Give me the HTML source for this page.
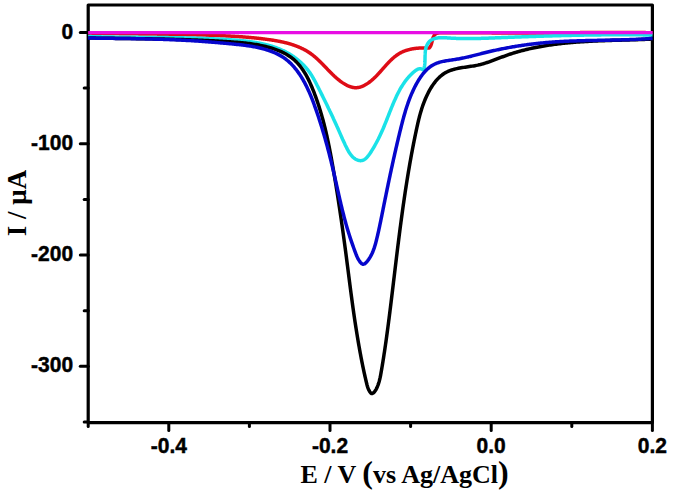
<!DOCTYPE html>
<html><head><meta charset="utf-8"><style>
html,body{margin:0;padding:0;background:#fff;width:675px;height:495px;overflow:hidden;}
svg{display:block;}
</style></head><body><svg width="675" height="495" viewBox="0 0 675 495"><path d="M88.2 5.0 L652.4 5.0 L652.4 422.6 L88.2 422.6 Z" fill="none" stroke="#000" stroke-width="3.2" stroke-linejoin="round"/><g stroke="#000" stroke-width="3" stroke-linecap="round" fill="none"><path d="M80.3 32.5 L88.2 32.5"/><path d="M80.3 143.8 L88.2 143.8"/><path d="M80.3 255.0 L88.2 255.0"/><path d="M80.3 366.3 L88.2 366.3"/><path d="M84.2 88.1 L88.2 88.1"/><path d="M84.2 199.4 L88.2 199.4"/><path d="M84.2 310.7 L88.2 310.7"/><path d="M84.2 421.9 L88.2 421.9"/><path d="M168.8 422.6 L168.8 430.5"/><path d="M330.0 422.6 L330.0 430.5"/><path d="M491.2 422.6 L491.2 430.5"/><path d="M652.4 422.6 L652.4 430.5"/><path d="M88.2 422.6 L88.2 426.5"/><path d="M249.4 422.6 L249.4 426.5"/><path d="M410.6 422.6 L410.6 426.5"/><path d="M571.8 422.6 L571.8 426.5"/></g><path d="M88.24 33.08 L88.70 33.09 89.16 33.10 89.63 33.11 90.09 33.12 90.55 33.13 91.01 33.14 91.47 33.15 91.93 33.16 92.39 33.17 92.85 33.18 93.31 33.19 93.77 33.20 94.24 33.21 94.70 33.21 95.16 33.22 95.62 33.23 96.08 33.24 96.54 33.25 97.00 33.26 97.47 33.27 97.93 33.28 98.39 33.29 98.85 33.30 99.31 33.31 99.78 33.31 100.24 33.32 100.70 33.33 101.16 33.34 101.62 33.35 102.09 33.36 102.55 33.36 103.01 33.37 103.47 33.38 103.94 33.39 104.40 33.40 104.86 33.40 105.32 33.41 105.79 33.42 106.25 33.43 106.71 33.44 107.17 33.44 107.64 33.45 108.10 33.46 108.56 33.47 109.03 33.47 109.49 33.48 109.95 33.49 110.41 33.50 110.88 33.50 111.34 33.51 111.80 33.52 112.27 33.53 112.73 33.53 113.19 33.54 113.66 33.55 114.12 33.55 114.58 33.56 115.05 33.57 115.51 33.57 115.97 33.58 116.44 33.59 116.90 33.59 117.36 33.60 117.83 33.61 118.29 33.61 118.76 33.62 119.22 33.63 119.68 33.63 120.15 33.64 120.61 33.65 121.07 33.65 121.54 33.66 122.00 33.67 122.47 33.67 122.93 33.68 123.39 33.69 123.86 33.69 124.32 33.70 124.79 33.70 125.25 33.71 125.71 33.72 126.18 33.72 126.64 33.73 127.11 33.74 127.57 33.74 128.04 33.75 128.50 33.75 128.96 33.76 129.43 33.77 129.89 33.77 130.36 33.78 130.82 33.78 131.29 33.79 131.75 33.80 132.21 33.80 132.68 33.81 133.14 33.81 133.61 33.82 134.07 33.83 134.54 33.83 135.00 33.84 135.47 33.84 135.93 33.85 136.40 33.86 136.86 33.86 137.32 33.87 137.79 33.87 138.25 33.88 138.72 33.88 139.18 33.89 139.65 33.90 140.11 33.90 140.58 33.91 141.04 33.91 141.51 33.92 141.97 33.93 142.44 33.93 142.90 33.94 143.37 33.94 143.83 33.95 144.30 33.96 144.76 33.96 145.23 33.97 145.69 33.97 146.16 33.98 146.62 33.99 147.09 33.99 147.55 34.00 148.02 34.00 148.48 34.01 148.95 34.02 149.41 34.02 149.88 34.03 150.34 34.03 150.80 34.04 151.27 34.05 151.73 34.05 152.20 34.06 152.66 34.07 153.13 34.07 153.59 34.08 154.06 34.08 154.52 34.09 154.99 34.10 155.45 34.10 155.92 34.11 156.38 34.12 156.85 34.12 157.31 34.13 157.78 34.14 158.24 34.14 158.71 34.15 159.17 34.16 159.64 34.16 160.10 34.17 160.57 34.18 161.03 34.18 161.50 34.19 161.96 34.20 162.43 34.20 162.89 34.21 163.36 34.22 163.82 34.22 164.29 34.23 164.75 34.24 165.22 34.24 165.68 34.25 166.15 34.26 166.61 34.27 167.08 34.27 167.54 34.28 168.01 34.29 168.47 34.30 168.93 34.30 169.40 34.31 169.86 34.32 170.33 34.33 170.79 34.33 171.26 34.34 171.72 34.35 172.19 34.36 172.65 34.37 173.12 34.37 173.58 34.38 174.05 34.39 174.51 34.40 174.97 34.41 175.44 34.41 175.90 34.42 176.37 34.43 176.83 34.44 177.30 34.45 177.76 34.46 178.23 34.47 178.69 34.47 179.15 34.48 179.62 34.49 180.08 34.50 180.55 34.51 181.01 34.52 181.48 34.53 181.94 34.54 182.40 34.55 182.87 34.56 183.33 34.57 183.80 34.58 184.26 34.59 184.72 34.59 185.19 34.60 185.65 34.61 186.12 34.62 186.58 34.63 187.04 34.64 187.51 34.65 187.97 34.66 188.43 34.68 188.90 34.69 189.36 34.70 189.83 34.71 190.29 34.72 190.75 34.73 191.22 34.74 191.68 34.75 192.14 34.76 192.61 34.77 193.07 34.78 193.53 34.79 194.00 34.81 194.46 34.82 194.92 34.83 195.39 34.84 195.85 34.85 196.31 34.86 196.78 34.88 197.24 34.89 197.70 34.90 198.16 34.91 198.63 34.93 199.09 34.94 199.55 34.95 200.02 34.96 200.48 34.98 200.94 34.99 201.40 35.00 201.87 35.01 202.33 35.03 202.79 35.04 203.25 35.05 203.72 35.07 204.18 35.08 204.64 35.10 205.10 35.11 205.57 35.12 206.03 35.14 206.49 35.15 206.95 35.17 207.41 35.18 207.88 35.19 208.34 35.21 208.80 35.22 209.26 35.24 209.72 35.25 210.19 35.27 210.65 35.28 211.11 35.30 211.57 35.31 212.03 35.33 212.49 35.35 212.95 35.36 213.42 35.38 213.88 35.39 214.34 35.41 214.80 35.43 215.26 35.44 215.72 35.46 216.18 35.48 216.64 35.49 217.11 35.51 217.57 35.53 218.03 35.55 218.49 35.57 218.95 35.58 219.41 35.60 219.87 35.62 220.33 35.64 220.79 35.66 221.25 35.68 221.71 35.70 222.18 35.72 222.64 35.74 223.10 35.76 223.56 35.78 224.02 35.80 224.48 35.82 224.94 35.84 225.40 35.86 225.86 35.88 226.32 35.90 226.78 35.93 227.24 35.95 227.70 35.97 228.16 35.99 228.63 36.02 229.09 36.04 229.55 36.06 230.01 36.09 230.47 36.11 230.93 36.14 231.39 36.16 231.85 36.19 232.31 36.21 232.77 36.24 233.23 36.27 233.69 36.29 234.15 36.32 234.61 36.35 235.08 36.38 235.54 36.40 236.00 36.43 236.46 36.46 236.92 36.49 237.38 36.52 237.84 36.55 238.30 36.58 238.76 36.61 239.22 36.64 239.68 36.67 240.15 36.70 240.61 36.74 241.07 36.77 241.53 36.80 241.99 36.84 242.45 36.87 242.91 36.90 243.37 36.94 243.84 36.97 244.30 37.01 244.76 37.05 245.22 37.08 245.68 37.12 246.14 37.16 246.60 37.19 247.07 37.23 247.53 37.27 247.99 37.31 248.45 37.35 248.91 37.39 249.38 37.43 249.84 37.47 250.30 37.51 250.76 37.55 251.22 37.60 251.69 37.64 252.15 37.68 252.61 37.73 253.07 37.77 253.54 37.82 254.00 37.86 254.46 37.91 254.92 37.96 255.39 38.00 255.85 38.05 256.31 38.10 256.78 38.15 257.24 38.20 257.70 38.25 258.17 38.30 258.63 38.35 259.09 38.40 259.56 38.45 260.02 38.50 260.48 38.56 260.95 38.61 261.41 38.67 261.88 38.72 262.34 38.78 262.80 38.83 263.27 38.89 263.73 38.95 264.20 39.01 264.66 39.06 265.13 39.12 265.59 39.18 266.06 39.24 266.52 39.31 266.99 39.37 267.45 39.43 267.92 39.49 268.38 39.56 268.85 39.62 269.31 39.69 269.78 39.75 270.24 39.82 270.71 39.89 271.17 39.96 271.64 40.03 272.10 40.10 272.57 40.17 273.03 40.24 273.50 40.32 273.96 40.39 274.42 40.47 274.89 40.55 275.35 40.63 275.81 40.71 276.28 40.79 276.74 40.87 277.20 40.95 277.66 41.04 278.12 41.12 278.59 41.21 279.05 41.30 279.51 41.39 279.97 41.48 280.42 41.57 280.88 41.67 281.34 41.76 281.80 41.86 282.26 41.96 282.71 42.06 283.17 42.16 283.62 42.26 284.08 42.37 284.53 42.48 284.98 42.59 285.44 42.70 285.89 42.81 286.34 42.92 286.79 43.04 287.24 43.16 287.69 43.28 288.14 43.40 288.58 43.52 289.03 43.65 289.47 43.77 289.92 43.90 290.36 44.03 290.80 44.17 291.25 44.30 291.69 44.44 292.13 44.58 292.57 44.72 293.00 44.87 293.44 45.01 293.88 45.16 294.31 45.31 294.74 45.47 295.18 45.62 295.61 45.78 296.04 45.94 296.47 46.10 296.89 46.27 297.32 46.43 297.74 46.60 298.17 46.78 298.59 46.95 299.01 47.13 299.43 47.31 299.85 47.49 300.27 47.68 300.68 47.87 301.10 48.06 301.51 48.25 301.92 48.45 302.33 48.65 302.74 48.85 303.15 49.05 303.55 49.26 303.96 49.47 304.36 49.68 304.76 49.90 305.16 50.12 305.56 50.34 305.96 50.57 306.35 50.79 306.74 51.03 307.13 51.26 307.52 51.50 307.91 51.74 308.30 51.98 308.68 52.23 309.06 52.48 309.44 52.73 309.82 52.99 310.20 53.25 310.58 53.51 310.95 53.78 311.32 54.05 311.69 54.33 312.06 54.60 312.42 54.88 312.79 55.17 313.15 55.45 313.51 55.74 313.87 56.03 314.23 56.33 314.58 56.63 314.94 56.93 315.29 57.23 315.64 57.54 315.99 57.84 316.34 58.15 316.69 58.47 317.04 58.78 317.38 59.10 317.72 59.42 318.07 59.74 318.41 60.06 318.75 60.39 319.09 60.71 319.43 61.04 319.77 61.37 320.11 61.70 320.44 62.03 320.78 62.37 321.11 62.70 321.45 63.04 321.78 63.37 322.12 63.71 322.45 64.05 322.78 64.39 323.11 64.73 323.44 65.07 323.78 65.42 324.11 65.76 324.44 66.10 324.77 66.45 325.10 66.79 325.43 67.13 325.76 67.48 326.09 67.82 326.42 68.17 326.75 68.51 327.08 68.86 327.41 69.20 327.74 69.54 328.07 69.89 328.41 70.23 328.74 70.57 329.07 70.91 329.40 71.25 329.73 71.59 330.07 71.93 330.40 72.27 330.74 72.61 331.07 72.94 331.41 73.28 331.75 73.61 332.08 73.94 332.42 74.28 332.76 74.60 333.10 74.93 333.44 75.26 333.78 75.58 334.13 75.91 334.47 76.23 334.82 76.54 335.16 76.86 335.51 77.18 335.86 77.49 336.21 77.80 336.56 78.11 336.92 78.41 337.27 78.71 337.63 79.01 337.98 79.31 338.34 79.61 338.70 79.90 339.07 80.19 339.43 80.47 339.80 80.76 340.17 81.04 340.54 81.31 340.91 81.59 341.28 81.86 341.66 82.12 342.03 82.39 342.41 82.65 342.80 82.90 343.18 83.15 343.57 83.40 343.95 83.64 344.34 83.88 344.74 84.12 345.13 84.35 345.53 84.57 345.93 84.79 346.33 85.01 346.73 85.22 347.13 85.42 347.54 85.61 347.94 85.80 348.35 85.98 348.76 86.15 349.17 86.32 349.58 86.48 349.99 86.63 350.41 86.77 350.82 86.90 351.24 87.02 351.65 87.14 352.07 87.24 352.49 87.33 352.91 87.42 353.32 87.49 353.74 87.55 354.16 87.60 354.58 87.64 355.00 87.67 355.43 87.69 355.85 87.69 356.27 87.68 356.69 87.66 357.11 87.63 357.53 87.58 357.95 87.53 358.37 87.46 358.79 87.38 359.21 87.29 359.63 87.19 360.04 87.08 360.46 86.96 360.87 86.83 361.29 86.69 361.70 86.54 362.12 86.38 362.53 86.21 362.94 86.03 363.35 85.85 363.75 85.66 364.16 85.46 364.56 85.25 364.96 85.03 365.36 84.81 365.76 84.58 366.16 84.35 366.55 84.11 366.94 83.86 367.33 83.61 367.72 83.35 368.10 83.09 368.48 82.82 368.86 82.55 369.24 82.27 369.61 81.99 369.98 81.71 370.35 81.42 370.72 81.13 371.08 80.83 371.44 80.53 371.80 80.23 372.16 79.92 372.51 79.61 372.86 79.30 373.21 78.99 373.56 78.67 373.90 78.35 374.25 78.02 374.59 77.69 374.93 77.37 375.26 77.03 375.60 76.70 375.93 76.36 376.27 76.03 376.60 75.69 376.93 75.34 377.26 75.00 377.58 74.65 377.91 74.31 378.24 73.96 378.56 73.61 378.88 73.26 379.20 72.91 379.53 72.55 379.85 72.20 380.17 71.84 380.48 71.49 380.80 71.13 381.12 70.77 381.44 70.41 381.75 70.06 382.07 69.70 382.39 69.34 382.70 68.98 383.02 68.62 383.34 68.26 383.65 67.91 383.97 67.55 384.28 67.19 384.60 66.83 384.92 66.48 385.23 66.12 385.55 65.77 385.87 65.42 386.19 65.06 386.50 64.71 386.82 64.36 387.14 64.02 387.47 63.67 387.79 63.32 388.11 62.98 388.43 62.64 388.76 62.30 389.08 61.96 389.41 61.63 389.74 61.29 390.07 60.96 390.40 60.63 390.73 60.31 391.07 59.98 391.40 59.66 391.74 59.35 392.08 59.03 392.42 58.72 392.76 58.41 393.11 58.11 393.46 57.80 393.80 57.51 394.15 57.21 394.51 56.92 394.86 56.63 395.22 56.35 395.58 56.07 395.94 55.79 396.31 55.52 396.68 55.26 397.05 54.99 397.42 54.74 397.80 54.48 398.17 54.23 398.56 53.99 398.94 53.75 399.33 53.52 399.72 53.29 400.11 53.07 400.51 52.85 400.91 52.63 401.32 52.43 401.72 52.23 402.13 52.03 402.55 51.84 402.97 51.65 403.39 51.47 403.81 51.30 404.23 51.13 404.66 50.97 405.09 50.81 405.53 50.65 405.97 50.50 406.40 50.36 406.85 50.22 407.29 50.08 407.73 49.95 408.18 49.83 408.63 49.71 409.08 49.59 409.54 49.48 409.99 49.37 410.45 49.27 410.91 49.17 411.37 49.08 411.83 48.99 412.29 48.90 412.75 48.82 413.22 48.74 413.68 48.67 414.15 48.60 414.61 48.53 415.08 48.47 415.55 48.41 416.02 48.36 416.49 48.31 416.96 48.26 417.43 48.22 417.90 48.18 418.37 48.14 418.84 48.10 419.31 48.07 419.78 48.05 420.25 48.02 420.72 48.00 421.19 47.98 421.66 47.97 422.12 47.96 422.59 47.95 423.06 47.94 423.52 47.94 423.99 47.94 424.45 47.94 424.91 47.94 425.37 47.95 425.83 47.96 426.29 47.97 426.75 47.98 427.20 48.00 427.66 48.02 428.11 48.04 428.56 48.06 429.01 48.09 L428.96 48.08 L429.17 47.90 429.37 47.72 429.56 47.52 429.74 47.31 429.91 47.10 430.07 46.88 430.23 46.66 430.37 46.42 430.51 46.18 430.64 45.93 430.76 45.68 430.88 45.42 430.99 45.16 431.09 44.89 431.19 44.62 431.29 44.34 431.38 44.06 431.47 43.77 431.55 43.48 431.63 43.19 431.71 42.89 431.79 42.59 431.86 42.29 431.94 41.98 432.01 41.68 432.08 41.37 432.15 41.06 432.23 40.75 432.30 40.44 432.38 40.13 432.46 39.82 432.54 39.51 432.62 39.20 432.71 38.89 432.80 38.58 432.89 38.27 432.99 37.96 433.10 37.66 433.21 37.36 433.32 37.07 433.44 36.78 433.56 36.50 433.70 36.23 433.83 35.96 433.98 35.71 434.13 35.46 434.29 35.22 434.45 35.00 434.62 34.78 434.80 34.58 434.99 34.40 435.19 34.22 435.39 34.06 435.60 33.92 435.82 33.78 436.04 33.65 436.27 33.54 436.51 33.44 436.75 33.34 437.00 33.26 437.25 33.18 437.51 33.12 437.77 33.06 438.04 33.00 438.31 32.96 438.58 32.92 438.86 32.89 439.14 32.86 439.43 32.84 439.71 32.82 440.00 32.80 440.29 32.79 440.58 32.78 440.87 32.78 441.17 32.77 441.46 32.77 441.76 32.76 442.05 32.76 442.35 32.76 442.64 32.76 442.94 32.76 443.23 32.75 443.53 32.75 443.82 32.75 444.11 32.75 444.41 32.74 444.70 32.74 445.00 32.74 445.29 32.74 445.59 32.74 445.88 32.74 446.18 32.73 446.47 32.73 446.76 32.73 447.06 32.73 447.35 32.73 447.65 32.73 447.94 32.73 448.24 32.72 448.53 32.72 448.82 32.72 449.12 32.72 449.41 32.72 449.71 32.72 450.00 32.72 450.29 32.72 450.59 32.72 450.88 32.71 451.18 32.71 451.47 32.71 451.76 32.71 452.06 32.71 452.35 32.71 452.65 32.71 452.94 32.71 453.23 32.71 453.53 32.71 453.82 32.71 454.11 32.71 454.41 32.71 454.70 32.71 454.99 32.71 455.29 32.71 455.58 32.71 455.87 32.71 456.17 32.71 456.46 32.71 456.75 32.71 457.05 32.71 457.34 32.71 457.63 32.71 457.93 32.71 458.22 32.71 458.51 32.71 458.81 32.71 459.10 32.71 459.39 32.71 459.69 32.71 459.98 32.71 460.27 32.71 460.57 32.71 460.86 32.71 461.15 32.71 461.45 32.71 461.74 32.71 462.03 32.71 462.32 32.71 462.62 32.71 462.91 32.71 463.20 32.71 463.50 32.71 463.79 32.72 464.08 32.72 464.37 32.72 464.67 32.72 464.96 32.72 465.25 32.72 465.54 32.72 465.84 32.72 466.13 32.72 466.42 32.72 466.72 32.72 467.01 32.73 467.30 32.73 467.59 32.73 467.89 32.73 468.18 32.73 468.47 32.73 468.76 32.73 469.05 32.73 469.35 32.74 469.64 32.74 469.93 32.74 470.22 32.74 470.52 32.74 470.81 32.74 471.10 32.74 471.39 32.74 471.69 32.75 471.98 32.75 472.27 32.75 472.56 32.75 472.85 32.75 473.15 32.75 473.44 32.76 473.73 32.76 474.02 32.76 474.32 32.76 474.61 32.76 474.90 32.76 475.19 32.77 475.48 32.77 475.78 32.77 476.07 32.77 476.36 32.77 476.65 32.77 476.94 32.78 477.24 32.78 477.53 32.78 477.82 32.78 478.11 32.78 478.40 32.78 478.70 32.79 478.99 32.79 479.28 32.79 479.57 32.79 479.86 32.79 480.15 32.80 480.45 32.80 480.74 32.80 481.03 32.80 481.32 32.80 481.61 32.81 481.90 32.81 482.20 32.81 482.49 32.81 482.78 32.81 483.07 32.82 483.36 32.82 483.66 32.82 483.95 32.82 484.24 32.82 484.53 32.83 484.82 32.83 485.11 32.83 485.40 32.83 485.70 32.83 485.99 32.84 486.28 32.84 486.57 32.84 486.86 32.84 487.15 32.84 487.45 32.85 487.74 32.85 488.03 32.85 488.32 32.85 488.61 32.85 488.90 32.86 489.19 32.86 489.49 32.86 489.78 32.86 490.07 32.86 490.36 32.87 490.65 32.87 490.94 32.87 491.24 32.87 491.53 32.87 491.82 32.88 492.11 32.88 492.40 32.88 492.69 32.88 492.98 32.88 493.27 32.89 493.57 32.89 493.86 32.89 494.15 32.89 494.44 32.89 494.73 32.90 495.02 32.90 495.31 32.90 495.61 32.90 495.90 32.90 496.19 32.91 496.48 32.91 496.77 32.91 497.06 32.91 497.35 32.91 497.65 32.91 497.94 32.92 498.23 32.92 498.52 32.92 498.81 32.92 499.10 32.92 499.39 32.93 499.68 32.93 499.98 32.93 500.27 32.93 500.56 32.93 500.85 32.93 501.14 32.94 501.43 32.94 501.72 32.94 502.01 32.94 502.31 32.94 502.60 32.94 502.89 32.95 503.18 32.95 503.47 32.95 503.76 32.95 504.05 32.95 504.34 32.95 504.64 32.96 504.93 32.96 505.22 32.96 505.51 32.96 505.80 32.96 506.09 32.96 506.38 32.96 506.68 32.96 506.97 32.97 507.26 32.97 507.55 32.97 507.84 32.97 508.13 32.97 508.42 32.97 508.71 32.97 509.01 32.97 509.30 32.98 509.59 32.98 509.88 32.98 510.17 32.98 510.46 32.98 510.75 32.98 511.04 32.98 511.34 32.98 511.63 32.98 511.92 32.98 512.21 32.99 512.50 32.99 512.79 32.99 513.08 32.99 513.38 32.99 513.67 32.99 513.96 32.99 514.25 32.99 514.54 32.99 514.83 32.99 515.12 32.99 515.42 32.99 515.71 32.99 516.00 32.99 516.29 32.99 516.58 32.99 516.87 32.99 517.16 32.99 517.46 33.00 517.75 33.00 518.04 33.00 518.33 33.00 518.62 33.00 518.91 33.00 519.20 33.00 519.50 33.00 519.79 33.00 520.08 33.00 520.37 33.00 520.66 33.00 520.95 33.00 521.24 33.00 521.54 33.00 521.83 33.00 522.12 33.00 522.41 33.00 522.70 32.99 522.99 32.99 523.29 32.99 523.58 32.99 523.87 32.99 524.16 32.99 524.45 32.99 524.74 32.99 525.04 32.99 525.33 32.99 525.62 32.99 525.91 32.99 526.20 32.99 526.49 32.99 526.78 32.99 527.08 32.99 527.37 32.99 527.66 32.99 527.95 32.99 528.24 32.98 528.53 32.98 528.83 32.98 529.12 32.98 529.41 32.98 529.70 32.98 529.99 32.98 530.28 32.98 530.58 32.98 530.87 32.98 531.16 32.98 531.45 32.97 531.74 32.97 532.04 32.97 532.33 32.97 532.62 32.97 532.91 32.97 533.20 32.97 533.49 32.97 533.79 32.97 534.08 32.96 534.37 32.96 534.66 32.96 534.95 32.96 535.24 32.96 535.54 32.96 535.83 32.96 536.12 32.95 536.41 32.95 536.70 32.95 536.99 32.95 537.29 32.95 537.58 32.95 537.87 32.95 538.16 32.94 538.45 32.94 538.75 32.94 539.04 32.94 539.33 32.94 539.62 32.94 539.91 32.94 540.20 32.93 540.50 32.93 540.79 32.93 541.08 32.93 541.37 32.93 541.66 32.93 541.96 32.92 542.25 32.92 542.54 32.92 542.83 32.92 543.12 32.92 543.42 32.91 543.71 32.91 544.00 32.91 544.29 32.91 544.58 32.91 544.87 32.91 545.17 32.90 545.46 32.90 545.75 32.90 546.04 32.90 546.33 32.90 546.63 32.89 546.92 32.89 547.21 32.89 547.50 32.89 547.79 32.89 548.09 32.88 548.38 32.88 548.67 32.88 548.96 32.88 549.25 32.88 549.55 32.87 549.84 32.87 550.13 32.87 550.42 32.87 550.71 32.86 551.01 32.86 551.30 32.86 551.59 32.86 551.88 32.86 552.17 32.85 552.47 32.85 552.76 32.85 553.05 32.85 553.34 32.84 553.63 32.84 553.93 32.84 554.22 32.84 554.51 32.84 554.80 32.83 555.09 32.83 555.39 32.83 555.68 32.83 555.97 32.82 556.26 32.82 556.55 32.82 556.85 32.82 557.14 32.81 557.43 32.81 557.72 32.81 558.01 32.81 558.31 32.81 558.60 32.80 558.89 32.80 559.18 32.80 559.47 32.80 559.77 32.79 560.06 32.79 560.35 32.79 560.64 32.79 560.93 32.78 561.23 32.78 561.52 32.78 561.81 32.78 562.10 32.77 562.39 32.77 562.69 32.77 562.98 32.77 563.27 32.76 563.56 32.76 563.85 32.76 564.15 32.76 564.44 32.75 564.73 32.75 565.02 32.75 565.31 32.75 565.61 32.74 565.90 32.74 566.19 32.74 566.48 32.74 566.77 32.73 567.07 32.73 567.36 32.73 567.65 32.73 567.94 32.72 568.24 32.72 568.53 32.72 568.82 32.72 569.11 32.72 569.40 32.71 569.70 32.71 569.99 32.71 570.28 32.71 570.57 32.70 570.86 32.70 571.16 32.70 571.45 32.70 571.74 32.69 572.03 32.69 572.32 32.69 572.62 32.69 572.91 32.68 573.20 32.68 573.49 32.68 573.78 32.68 574.08 32.67 574.37 32.67 574.66 32.67 574.95 32.67 575.25 32.66 575.54 32.66 575.83 32.66 576.12 32.66 576.41 32.65 576.71 32.65 577.00 32.65 577.29 32.65 577.58 32.64 577.87 32.64 578.17 32.64 578.46 32.64 578.75 32.63 579.04 32.63 579.33 32.63 579.63 32.63 579.92 32.63 580.21 32.62 580.50 32.62 580.80 32.62 581.09 32.62 581.38 32.61 581.67 32.61 581.96 32.61 582.26 32.61 582.55 32.60 582.84 32.60 583.13 32.60 583.42 32.60 583.72 32.60 584.01 32.59 584.30 32.59 584.59 32.59 584.88 32.59 585.18 32.58 585.47 32.58 585.76 32.58 586.05 32.58 586.35 32.58 586.64 32.57 586.93 32.57 587.22 32.57 587.51 32.57 587.81 32.57 588.10 32.56 588.39 32.56 588.68 32.56 588.97 32.56 589.27 32.55 589.56 32.55 589.85 32.55 590.14 32.55 590.43 32.55 590.73 32.55 591.02 32.54 591.31 32.54 591.60 32.54 591.90 32.54 592.19 32.54 592.48 32.53 592.77 32.53 593.06 32.53 593.36 32.53 593.65 32.53 593.94 32.52 594.23 32.52 594.52 32.52 594.82 32.52 595.11 32.52 595.40 32.52 595.69 32.51 595.98 32.51 596.28 32.51 596.57 32.51 596.86 32.51 597.15 32.51 597.44 32.50 597.74 32.50 598.03 32.50 598.32 32.50 598.61 32.50 598.90 32.50 599.20 32.50 599.49 32.49 599.78 32.49 600.07 32.49 600.37 32.49 600.66 32.49 600.95 32.49 601.24 32.49 601.53 32.48 601.83 32.48 602.12 32.48 602.41 32.48 602.70 32.48 602.99 32.48 603.29 32.48 603.58 32.48 603.87 32.47 604.16 32.47 604.45 32.47 604.75 32.47 605.04 32.47 605.33 32.47 605.62 32.47 605.91 32.47 606.21 32.47 606.50 32.46 606.79 32.46 607.08 32.46 607.37 32.46 607.67 32.46 607.96 32.46 608.25 32.46 608.54 32.46 608.83 32.46 609.13 32.46 609.42 32.46 609.71 32.46 610.00 32.46 610.29 32.45 610.59 32.45 610.88 32.45 611.17 32.45 611.46 32.45 611.75 32.45 612.05 32.45 612.34 32.45 612.63 32.45 612.92 32.45 613.21 32.45 613.50 32.45 613.80 32.45 614.09 32.45 614.38 32.45 614.67 32.45 614.96 32.45 615.26 32.45 615.55 32.45 615.84 32.45 616.13 32.45 616.42 32.45 616.72 32.45 617.01 32.45 617.30 32.45 617.59 32.45 617.88 32.45 618.18 32.45 618.47 32.45 618.76 32.45 619.05 32.45 619.34 32.45 619.63 32.45 619.93 32.45 620.22 32.45 620.51 32.45 620.80 32.45 621.09 32.45 621.39 32.45 621.68 32.45 621.97 32.45 622.26 32.45 622.55 32.45 622.84 32.45 623.14 32.45 623.43 32.46 623.72 32.46 624.01 32.46 624.30 32.46 624.60 32.46 624.89 32.46 625.18 32.46 625.47 32.46 625.76 32.46 626.05 32.46 626.35 32.46 626.64 32.47 626.93 32.47 627.22 32.47 627.51 32.47 627.81 32.47 628.10 32.47 628.39 32.47 628.68 32.47 628.97 32.48 629.26 32.48 629.56 32.48 629.85 32.48 630.14 32.48 630.43 32.48 630.72 32.48 631.01 32.49 631.31 32.49 631.60 32.49 631.89 32.49 632.18 32.49 632.47 32.49 632.76 32.50 633.06 32.50 633.35 32.50 633.64 32.50 633.93 32.50 634.22 32.51 634.51 32.51 634.81 32.51 635.10 32.51 635.39 32.52 635.68 32.52 635.97 32.52 636.26 32.52 636.56 32.52 636.85 32.53 637.14 32.53 637.43 32.53 637.72 32.53 638.01 32.54 638.31 32.54 638.60 32.54 638.89 32.55 639.18 32.55 639.47 32.55 639.76 32.55 640.05 32.56 640.35 32.56 640.64 32.56 640.93 32.57 641.22 32.57 641.51 32.57 641.80 32.58 642.10 32.58 642.39 32.58 642.68 32.59 642.97 32.59 643.26 32.59 643.55 32.60 643.84 32.60 644.14 32.60 644.43 32.61 644.72 32.61 645.01 32.61 645.30 32.62 645.59 32.62 645.88 32.63 646.18 32.63 646.47 32.63 646.76 32.64 647.05 32.64 647.34 32.65 647.63 32.65 647.92 32.65 648.22 32.66 648.51 32.66 648.80 32.67 649.09 32.67 649.38 32.68 649.67 32.68 649.96 32.68 650.25 32.69 650.55 32.69 650.84 32.70 651.13 32.70 651.42 32.71 651.71 32.71 652.00 32.72 652.29 32.72 652.59 32.73 " fill="none" stroke="#de0c16" stroke-width="3.5" stroke-linejoin="round" stroke-linecap="butt"/><path d="M88.10 36.50 L88.67 36.52 89.24 36.54 89.81 36.56 90.38 36.58 90.96 36.60 91.53 36.61 92.10 36.63 92.67 36.65 93.24 36.67 93.81 36.68 94.38 36.70 94.96 36.71 95.53 36.73 96.10 36.74 96.67 36.76 97.24 36.77 97.81 36.79 98.38 36.80 98.95 36.82 99.52 36.83 100.09 36.85 100.66 36.86 101.23 36.87 101.79 36.89 102.36 36.90 102.93 36.91 103.50 36.92 104.07 36.93 104.64 36.95 105.21 36.96 105.78 36.97 106.34 36.98 106.91 36.99 107.48 37.00 108.05 37.01 108.62 37.02 109.18 37.03 109.75 37.04 110.32 37.05 110.89 37.06 111.45 37.07 112.02 37.08 112.59 37.09 113.16 37.10 113.72 37.11 114.29 37.12 114.86 37.13 115.42 37.13 115.99 37.14 116.56 37.15 117.12 37.16 117.69 37.17 118.25 37.17 118.82 37.18 119.39 37.19 119.95 37.19 120.52 37.20 121.08 37.21 121.65 37.21 122.22 37.22 122.78 37.23 123.35 37.23 123.91 37.24 124.48 37.25 125.04 37.25 125.61 37.26 126.17 37.26 126.74 37.27 127.30 37.28 127.87 37.28 128.43 37.29 129.00 37.29 129.56 37.30 130.13 37.30 130.69 37.31 131.25 37.31 131.82 37.32 132.38 37.32 132.95 37.33 133.51 37.33 134.07 37.34 134.64 37.34 135.20 37.34 135.77 37.35 136.33 37.35 136.89 37.36 137.46 37.36 138.02 37.37 138.59 37.37 139.15 37.38 139.71 37.38 140.28 37.38 140.84 37.39 141.40 37.39 141.97 37.40 142.53 37.40 143.09 37.40 143.66 37.41 144.22 37.41 144.78 37.42 145.35 37.42 145.91 37.42 146.47 37.43 147.03 37.43 147.60 37.44 148.16 37.44 148.72 37.44 149.29 37.45 149.85 37.45 150.41 37.46 150.97 37.46 151.54 37.47 152.10 37.47 152.66 37.47 153.23 37.48 153.79 37.48 154.35 37.49 154.91 37.49 155.48 37.50 156.04 37.50 156.60 37.51 157.16 37.51 157.73 37.52 158.29 37.52 158.85 37.53 159.41 37.53 159.98 37.54 160.54 37.54 161.10 37.55 161.66 37.55 162.23 37.56 162.79 37.56 163.35 37.57 163.91 37.57 164.48 37.58 165.04 37.59 165.60 37.59 166.16 37.60 166.73 37.60 167.29 37.61 167.85 37.62 168.41 37.62 168.98 37.63 169.54 37.64 170.10 37.65 170.66 37.65 171.23 37.66 171.79 37.67 172.35 37.67 172.91 37.68 173.48 37.69 174.04 37.70 174.60 37.71 175.16 37.72 175.73 37.72 176.29 37.73 176.85 37.74 177.42 37.75 177.98 37.76 178.54 37.77 179.10 37.78 179.67 37.79 180.23 37.80 180.79 37.81 181.36 37.82 181.92 37.83 182.48 37.84 183.05 37.85 183.61 37.86 184.17 37.87 184.74 37.89 185.30 37.90 185.86 37.91 186.43 37.92 186.99 37.93 187.55 37.95 188.12 37.96 188.68 37.97 189.24 37.99 189.81 38.00 190.37 38.01 190.93 38.03 191.50 38.04 192.06 38.06 192.63 38.07 193.19 38.09 193.75 38.10 194.32 38.12 194.88 38.13 195.45 38.15 196.01 38.17 196.57 38.18 197.14 38.20 197.70 38.22 198.27 38.24 198.83 38.25 199.40 38.27 199.96 38.29 200.53 38.31 201.09 38.33 201.66 38.35 202.22 38.37 202.79 38.39 203.35 38.41 203.92 38.43 204.48 38.45 205.05 38.47 205.61 38.49 206.18 38.51 206.75 38.54 207.31 38.56 207.88 38.58 208.44 38.61 209.01 38.63 209.58 38.65 210.14 38.68 210.71 38.70 211.27 38.73 211.84 38.75 212.41 38.78 212.97 38.80 213.54 38.83 214.11 38.86 214.67 38.88 215.24 38.91 215.81 38.94 216.38 38.97 216.94 39.00 217.51 39.03 218.08 39.06 218.65 39.09 219.21 39.12 219.78 39.15 220.35 39.18 220.92 39.21 221.49 39.24 222.06 39.27 222.62 39.31 223.19 39.34 223.76 39.37 224.33 39.41 224.90 39.44 225.47 39.48 226.04 39.51 226.61 39.55 227.18 39.58 227.75 39.62 228.32 39.66 228.89 39.70 229.46 39.73 230.03 39.77 230.60 39.81 231.17 39.85 231.74 39.89 232.31 39.93 232.88 39.97 233.45 40.01 234.02 40.06 234.59 40.10 235.16 40.14 235.73 40.19 236.30 40.23 236.87 40.28 237.44 40.33 238.01 40.37 238.58 40.42 239.15 40.47 239.72 40.52 240.29 40.57 240.86 40.63 241.43 40.68 242.00 40.74 242.57 40.79 243.14 40.85 243.71 40.91 244.28 40.97 244.84 41.03 245.41 41.09 245.98 41.16 246.55 41.22 247.11 41.29 247.68 41.36 248.24 41.42 248.81 41.50 249.37 41.57 249.94 41.64 250.50 41.72 251.07 41.80 251.63 41.87 252.19 41.96 252.75 42.04 253.31 42.12 253.87 42.21 254.43 42.30 254.99 42.39 255.55 42.48 256.11 42.57 256.67 42.67 257.22 42.77 257.78 42.87 258.34 42.97 258.89 43.07 259.44 43.18 260.00 43.29 260.55 43.40 261.10 43.51 261.65 43.62 262.20 43.74 262.75 43.86 263.30 43.98 263.85 44.11 264.39 44.23 264.94 44.36 265.48 44.50 266.03 44.63 266.57 44.77 267.11 44.91 267.65 45.05 268.19 45.19 268.73 45.34 269.27 45.49 269.80 45.64 270.34 45.80 270.87 45.96 271.40 46.12 271.94 46.28 272.47 46.45 273.00 46.62 273.52 46.80 274.05 46.97 274.58 47.15 275.10 47.33 275.63 47.52 276.15 47.71 276.67 47.90 277.19 48.10 277.70 48.29 278.22 48.50 278.74 48.70 279.25 48.91 279.76 49.12 280.27 49.34 280.78 49.56 281.29 49.78 281.80 50.00 282.30 50.23 282.81 50.47 283.31 50.70 283.81 50.94 284.31 51.19 284.81 51.43 285.30 51.69 285.80 51.94 286.29 52.20 286.78 52.46 287.27 52.73 287.76 53.00 288.24 53.28 288.72 53.55 289.21 53.84 289.69 54.12 290.17 54.41 290.64 54.71 291.12 55.01 291.59 55.31 292.06 55.62 292.53 55.93 293.00 56.25 293.47 56.57 293.93 56.89 294.39 57.22 294.85 57.55 295.31 57.89 295.76 58.23 296.21 58.57 296.66 58.92 297.11 59.27 297.55 59.63 297.99 59.99 298.43 60.35 298.87 60.72 299.30 61.09 299.73 61.46 300.16 61.84 300.58 62.22 301.00 62.61 301.42 62.99 301.83 63.39 302.24 63.78 302.65 64.18 303.05 64.58 303.45 64.99 303.85 65.40 304.24 65.81 304.63 66.23 305.01 66.65 305.39 67.07 305.77 67.49 306.14 67.92 306.51 68.35 306.87 68.79 307.23 69.23 307.59 69.67 307.94 70.11 308.29 70.56 308.63 71.01 308.96 71.46 309.30 71.91 309.62 72.37 309.95 72.83 310.27 73.30 310.58 73.76 310.89 74.23 311.20 74.70 311.50 75.17 311.80 75.65 312.09 76.13 312.38 76.61 312.67 77.09 312.96 77.57 313.24 78.06 313.52 78.55 313.80 79.04 314.07 79.53 314.34 80.02 314.61 80.51 314.88 81.01 315.15 81.50 315.41 82.00 315.67 82.50 315.93 83.00 316.19 83.50 316.45 84.00 316.71 84.50 316.97 85.00 317.22 85.51 317.48 86.01 317.74 86.52 317.99 87.02 318.25 87.53 318.50 88.03 318.76 88.54 319.01 89.04 319.27 89.55 319.52 90.06 319.78 90.56 320.03 91.07 320.29 91.58 320.54 92.08 320.80 92.59 321.05 93.10 321.31 93.61 321.56 94.12 321.82 94.63 322.07 95.14 322.32 95.64 322.58 96.15 322.83 96.66 323.08 97.17 323.34 97.68 323.59 98.19 323.84 98.70 324.09 99.21 324.35 99.72 324.60 100.23 324.85 100.75 325.10 101.26 325.35 101.77 325.60 102.28 325.85 102.79 326.10 103.30 326.35 103.81 326.60 104.32 326.85 104.83 327.10 105.35 327.35 105.86 327.60 106.37 327.84 106.88 328.09 107.39 328.34 107.90 328.58 108.42 328.83 108.93 329.08 109.44 329.32 109.95 329.57 110.46 329.81 110.98 330.06 111.49 330.30 112.00 330.54 112.51 330.79 113.02 331.03 113.53 331.27 114.05 331.51 114.56 331.75 115.07 331.99 115.58 332.23 116.09 332.47 116.60 332.71 117.11 332.95 117.62 333.19 118.13 333.42 118.65 333.66 119.16 333.90 119.67 334.13 120.18 334.37 120.69 334.60 121.20 334.84 121.71 335.07 122.22 335.30 122.73 335.53 123.23 335.77 123.74 336.00 124.25 336.23 124.76 336.46 125.27 336.69 125.78 336.91 126.29 337.14 126.79 337.37 127.30 337.59 127.81 337.82 128.32 338.04 128.82 338.27 129.33 338.49 129.84 338.71 130.34 338.94 130.85 339.16 131.35 339.38 131.86 339.60 132.36 339.82 132.87 340.04 133.38 340.26 133.88 340.48 134.39 340.70 134.89 340.92 135.40 341.15 135.91 341.37 136.41 341.59 136.92 341.82 137.43 342.04 137.94 342.27 138.45 342.50 138.96 342.72 139.47 342.96 139.99 343.19 140.50 343.42 141.01 343.66 141.53 343.89 142.05 344.13 142.57 344.37 143.08 344.62 143.61 344.86 144.13 345.11 144.65 345.36 145.18 345.62 145.70 345.87 146.23 346.13 146.76 346.39 147.29 346.66 147.83 346.93 148.36 347.20 148.90 347.48 149.43 347.76 149.96 348.05 150.49 348.35 151.01 348.65 151.53 348.96 152.05 349.27 152.55 349.60 153.06 349.93 153.55 350.27 154.03 350.62 154.51 350.98 154.98 351.35 155.43 351.74 155.87 352.13 156.30 352.53 156.72 352.95 157.12 353.38 157.51 353.82 157.88 354.28 158.23 354.75 158.57 355.22 158.89 355.71 159.18 356.21 159.45 356.72 159.70 357.23 159.92 357.74 160.12 358.25 160.29 358.77 160.43 359.28 160.54 359.79 160.61 360.30 160.65 360.80 160.65 361.29 160.62 361.78 160.55 362.26 160.45 362.72 160.30 363.18 160.13 363.63 159.92 364.08 159.68 364.51 159.42 364.94 159.12 365.37 158.81 365.78 158.46 366.19 158.10 366.59 157.71 366.98 157.30 367.37 156.88 367.75 156.43 368.13 155.98 368.50 155.51 368.87 155.02 369.22 154.53 369.58 154.03 369.93 153.52 370.27 153.00 370.61 152.48 370.95 151.96 371.28 151.44 371.61 150.91 371.93 150.39 372.25 149.87 372.56 149.35 372.87 148.84 373.18 148.32 373.49 147.81 373.79 147.30 374.08 146.79 374.38 146.28 374.67 145.77 374.96 145.26 375.24 144.76 375.52 144.25 375.80 143.75 376.08 143.25 376.35 142.75 376.62 142.25 376.88 141.75 377.15 141.25 377.41 140.75 377.67 140.25 377.92 139.75 378.18 139.26 378.43 138.76 378.68 138.26 378.92 137.77 379.17 137.27 379.41 136.77 379.65 136.28 379.89 135.78 380.13 135.28 380.36 134.79 380.59 134.29 380.82 133.79 381.05 133.29 381.28 132.80 381.51 132.30 381.73 131.80 381.96 131.30 382.18 130.80 382.40 130.29 382.62 129.79 382.84 129.29 383.05 128.78 383.27 128.27 383.49 127.77 383.70 127.26 383.91 126.75 384.13 126.24 384.34 125.73 384.55 125.21 384.76 124.70 384.97 124.19 385.18 123.67 385.39 123.16 385.60 122.64 385.80 122.12 386.01 121.60 386.22 121.08 386.43 120.56 386.63 120.04 386.84 119.52 387.04 119.00 387.25 118.48 387.46 117.95 387.66 117.43 387.87 116.91 388.08 116.38 388.28 115.86 388.49 115.33 388.69 114.80 388.90 114.28 389.11 113.75 389.32 113.22 389.52 112.69 389.73 112.17 389.94 111.64 390.15 111.11 390.36 110.58 390.57 110.05 390.78 109.52 391.00 108.99 391.21 108.46 391.42 107.94 391.64 107.41 391.85 106.88 392.07 106.35 392.29 105.82 392.51 105.29 392.73 104.76 392.95 104.23 393.17 103.70 393.40 103.17 393.62 102.64 393.85 102.11 394.07 101.59 394.30 101.06 394.53 100.53 394.77 100.01 395.00 99.48 395.24 98.96 395.47 98.43 395.71 97.91 395.96 97.39 396.20 96.87 396.44 96.35 396.69 95.83 396.94 95.31 397.19 94.80 397.45 94.28 397.70 93.77 397.96 93.26 398.22 92.75 398.49 92.24 398.75 91.73 399.02 91.22 399.29 90.72 399.56 90.22 399.84 89.72 400.12 89.22 400.40 88.72 400.69 88.23 400.97 87.74 401.26 87.25 401.56 86.76 401.86 86.28 402.16 85.79 402.46 85.31 402.76 84.84 403.07 84.36 403.39 83.89 403.70 83.42 404.02 82.95 404.35 82.49 404.67 82.03 405.01 81.57 405.34 81.11 405.68 80.66 406.02 80.21 406.37 79.77 406.71 79.33 407.07 78.89 407.43 78.45 407.79 78.02 408.15 77.59 408.52 77.17 408.90 76.75 409.28 76.33 409.66 75.92 410.05 75.51 410.44 75.10 410.83 74.70 411.24 74.30 411.64 73.91 412.05 73.52 412.47 73.13 412.89 72.75 413.31 72.38 413.74 72.01 414.17 71.64 414.61 71.28 415.06 70.92 415.51 70.58 415.96 70.26 416.42 69.95 416.89 69.68 417.36 69.43 417.84 69.21 418.32 69.03 418.81 68.89 419.31 68.80 419.81 68.76 420.32 68.77 420.84 68.83 421.36 68.96 421.89 69.16 422.43 69.42 422.97 69.76 423.52 70.18 L423.44 70.03 L423.55 69.78 423.66 69.52 423.76 69.25 423.85 68.99 423.94 68.72 424.03 68.44 424.11 68.16 424.18 67.88 424.25 67.59 424.32 67.31 424.38 67.01 424.44 66.72 424.50 66.42 424.55 66.12 424.59 65.81 424.64 65.51 424.68 65.20 424.71 64.88 424.75 64.57 424.78 64.25 424.81 63.93 424.83 63.61 424.86 63.29 424.88 62.96 424.90 62.63 424.91 62.30 424.93 61.97 424.94 61.64 424.95 61.31 424.96 60.97 424.97 60.64 424.98 60.30 424.99 59.96 425.00 59.62 425.00 59.28 425.01 58.94 425.01 58.60 425.02 58.26 425.02 57.91 425.03 57.57 425.03 57.23 425.04 56.88 425.05 56.54 425.06 56.20 425.06 55.86 425.07 55.51 425.09 55.17 425.10 54.83 425.11 54.49 425.13 54.15 425.14 53.81 425.16 53.47 425.19 53.14 425.21 52.80 425.24 52.47 425.27 52.13 425.30 51.80 425.33 51.47 425.37 51.14 425.41 50.82 425.45 50.49 425.50 50.17 425.55 49.85 425.61 49.53 425.67 49.21 425.73 48.90 425.80 48.59 425.87 48.28 425.95 47.97 426.03 47.67 426.12 47.37 426.21 47.07 426.30 46.78 426.40 46.49 426.51 46.20 426.62 45.91 426.73 45.63 426.85 45.36 426.97 45.08 427.10 44.82 427.23 44.55 427.37 44.29 427.51 44.03 427.66 43.78 427.81 43.53 427.97 43.29 428.13 43.05 428.30 42.82 428.47 42.59 428.65 42.37 428.83 42.15 429.01 41.94 429.21 41.73 429.40 41.53 429.61 41.33 429.81 41.14 430.03 40.95 430.24 40.77 430.47 40.60 430.69 40.43 430.92 40.27 431.16 40.11 431.40 39.96 431.65 39.82 431.90 39.68 432.15 39.54 432.41 39.41 432.67 39.29 432.93 39.17 433.20 39.05 433.47 38.95 433.74 38.84 434.02 38.74 434.30 38.65 434.58 38.56 434.87 38.48 435.15 38.40 435.44 38.33 435.74 38.26 436.03 38.19 436.33 38.13 436.62 38.08 436.92 38.02 437.23 37.98 437.53 37.93 437.84 37.89 438.14 37.86 438.45 37.82 438.76 37.79 439.08 37.77 439.39 37.75 439.71 37.73 440.02 37.71 440.34 37.70 440.66 37.69 440.98 37.68 441.31 37.67 441.63 37.67 441.95 37.67 442.28 37.67 442.61 37.68 442.93 37.68 443.26 37.69 443.59 37.70 443.92 37.71 444.25 37.72 444.58 37.74 444.91 37.75 445.25 37.77 445.58 37.79 445.91 37.81 446.24 37.83 446.58 37.85 446.91 37.87 447.25 37.89 447.58 37.91 447.92 37.93 448.25 37.96 448.58 37.98 448.92 38.00 449.25 38.02 449.59 38.04 449.92 38.07 450.25 38.09 450.59 38.11 450.92 38.13 451.25 38.15 451.58 38.16 451.92 38.18 452.25 38.20 452.58 38.22 452.91 38.24 453.24 38.25 453.57 38.27 453.90 38.28 454.23 38.30 454.56 38.32 454.89 38.33 455.22 38.34 455.55 38.36 455.88 38.37 456.21 38.38 456.54 38.40 456.86 38.41 457.19 38.42 457.52 38.43 457.85 38.44 458.17 38.45 458.50 38.46 458.83 38.47 459.15 38.48 459.48 38.49 459.81 38.50 460.13 38.50 460.46 38.51 460.78 38.52 461.11 38.53 461.43 38.53 461.76 38.54 462.08 38.55 462.41 38.55 462.73 38.56 463.05 38.56 463.38 38.56 463.70 38.57 464.03 38.57 464.35 38.58 464.67 38.58 464.99 38.58 465.32 38.58 465.64 38.59 465.96 38.59 466.28 38.59 466.60 38.59 466.93 38.59 467.25 38.59 467.57 38.59 467.89 38.59 468.21 38.59 468.53 38.59 468.85 38.59 469.17 38.59 469.49 38.59 469.81 38.59 470.13 38.58 470.45 38.58 470.77 38.58 471.09 38.58 471.41 38.57 471.73 38.57 472.05 38.57 472.37 38.56 472.69 38.56 473.01 38.56 473.33 38.55 473.64 38.55 473.96 38.54 474.28 38.54 474.60 38.53 474.92 38.52 475.23 38.52 475.55 38.51 475.87 38.51 476.19 38.50 476.51 38.49 476.82 38.49 477.14 38.48 477.46 38.47 477.77 38.46 478.09 38.46 478.41 38.45 478.72 38.44 479.04 38.43 479.36 38.43 479.67 38.42 479.99 38.41 480.31 38.40 480.62 38.39 480.94 38.38 481.26 38.37 481.57 38.36 481.89 38.35 482.20 38.34 482.52 38.33 482.84 38.32 483.15 38.31 483.47 38.30 483.78 38.29 484.10 38.28 484.41 38.27 484.73 38.26 485.04 38.25 485.36 38.24 485.68 38.23 485.99 38.22 486.31 38.21 486.62 38.20 486.94 38.18 487.25 38.17 487.57 38.16 487.88 38.15 488.20 38.14 488.51 38.13 488.83 38.11 489.14 38.10 489.46 38.09 489.77 38.08 490.09 38.07 490.40 38.05 490.72 38.04 491.03 38.03 491.35 38.02 491.66 38.01 491.98 37.99 492.29 37.98 492.61 37.97 492.92 37.96 493.24 37.94 493.55 37.93 493.87 37.92 494.18 37.91 494.50 37.89 494.81 37.88 495.13 37.87 495.44 37.86 495.76 37.85 496.07 37.83 496.39 37.82 496.70 37.81 497.02 37.80 497.34 37.78 497.65 37.77 497.97 37.76 498.28 37.75 498.60 37.73 498.91 37.72 499.23 37.71 499.54 37.70 499.86 37.69 500.18 37.67 500.49 37.66 500.81 37.65 501.12 37.64 501.44 37.62 501.75 37.61 502.07 37.60 502.39 37.59 502.70 37.58 503.02 37.56 503.33 37.55 503.65 37.54 503.97 37.53 504.28 37.52 504.60 37.50 504.91 37.49 505.23 37.48 505.55 37.47 505.86 37.45 506.18 37.44 506.49 37.43 506.81 37.42 507.13 37.41 507.44 37.39 507.76 37.38 508.08 37.37 508.39 37.36 508.71 37.35 509.03 37.33 509.34 37.32 509.66 37.31 509.97 37.30 510.29 37.29 510.61 37.28 510.92 37.26 511.24 37.25 511.56 37.24 511.87 37.23 512.19 37.22 512.51 37.20 512.82 37.19 513.14 37.18 513.46 37.17 513.77 37.16 514.09 37.15 514.41 37.13 514.73 37.12 515.04 37.11 515.36 37.10 515.68 37.09 515.99 37.08 516.31 37.06 516.63 37.05 516.94 37.04 517.26 37.03 517.58 37.02 517.90 37.01 518.21 36.99 518.53 36.98 518.85 36.97 519.16 36.96 519.48 36.95 519.80 36.94 520.12 36.93 520.43 36.91 520.75 36.90 521.07 36.89 521.38 36.88 521.70 36.87 522.02 36.86 522.34 36.85 522.65 36.83 522.97 36.82 523.29 36.81 523.61 36.80 523.92 36.79 524.24 36.78 524.56 36.77 524.88 36.76 525.19 36.74 525.51 36.73 525.83 36.72 526.15 36.71 526.46 36.70 526.78 36.69 527.10 36.68 527.42 36.67 527.73 36.66 528.05 36.65 528.37 36.63 528.69 36.62 529.01 36.61 529.32 36.60 529.64 36.59 529.96 36.58 530.28 36.57 530.59 36.56 530.91 36.55 531.23 36.54 531.55 36.53 531.87 36.51 532.18 36.50 532.50 36.49 532.82 36.48 533.14 36.47 533.46 36.46 533.77 36.45 534.09 36.44 534.41 36.43 534.73 36.42 535.05 36.41 535.36 36.40 535.68 36.39 536.00 36.38 536.32 36.37 536.64 36.36 536.96 36.35 537.27 36.34 537.59 36.33 537.91 36.31 538.23 36.30 538.55 36.29 538.87 36.28 539.18 36.27 539.50 36.26 539.82 36.25 540.14 36.24 540.46 36.23 540.78 36.22 541.09 36.21 541.41 36.20 541.73 36.19 542.05 36.18 542.37 36.17 542.69 36.16 543.00 36.15 543.32 36.14 543.64 36.13 543.96 36.12 544.28 36.11 544.60 36.10 544.91 36.09 545.23 36.08 545.55 36.07 545.87 36.06 546.19 36.05 546.51 36.04 546.83 36.04 547.14 36.03 547.46 36.02 547.78 36.01 548.10 36.00 548.42 35.99 548.74 35.98 549.06 35.97 549.38 35.96 549.69 35.95 550.01 35.94 550.33 35.93 550.65 35.92 550.97 35.91 551.29 35.90 551.61 35.89 551.93 35.88 552.24 35.88 552.56 35.87 552.88 35.86 553.20 35.85 553.52 35.84 553.84 35.83 554.16 35.82 554.48 35.81 554.79 35.80 555.11 35.79 555.43 35.79 555.75 35.78 556.07 35.77 556.39 35.76 556.71 35.75 557.03 35.74 557.35 35.73 557.66 35.72 557.98 35.72 558.30 35.71 558.62 35.70 558.94 35.69 559.26 35.68 559.58 35.67 559.90 35.66 560.22 35.66 560.54 35.65 560.85 35.64 561.17 35.63 561.49 35.62 561.81 35.61 562.13 35.61 562.45 35.60 562.77 35.59 563.09 35.58 563.41 35.57 563.73 35.56 564.04 35.56 564.36 35.55 564.68 35.54 565.00 35.53 565.32 35.52 565.64 35.52 565.96 35.51 566.28 35.50 566.60 35.49 566.92 35.49 567.24 35.48 567.55 35.47 567.87 35.46 568.19 35.46 568.51 35.45 568.83 35.44 569.15 35.43 569.47 35.43 569.79 35.42 570.11 35.41 570.43 35.40 570.75 35.40 571.07 35.39 571.38 35.38 571.70 35.37 572.02 35.37 572.34 35.36 572.66 35.35 572.98 35.35 573.30 35.34 573.62 35.33 573.94 35.32 574.26 35.32 574.58 35.31 574.90 35.30 575.21 35.30 575.53 35.29 575.85 35.28 576.17 35.28 576.49 35.27 576.81 35.26 577.13 35.26 577.45 35.25 577.77 35.24 578.09 35.24 578.41 35.23 578.73 35.22 579.04 35.22 579.36 35.21 579.68 35.21 580.00 35.20 580.32 35.19 580.64 35.19 580.96 35.18 581.28 35.17 581.60 35.17 581.92 35.16 582.24 35.16 582.56 35.15 582.87 35.14 583.19 35.14 583.51 35.13 583.83 35.13 584.15 35.12 584.47 35.12 584.79 35.11 585.11 35.10 585.43 35.10 585.75 35.09 586.07 35.09 586.39 35.08 586.70 35.08 587.02 35.07 587.34 35.07 587.66 35.06 587.98 35.06 588.30 35.05 588.62 35.04 588.94 35.04 589.26 35.03 589.58 35.03 589.90 35.02 590.22 35.02 590.53 35.01 590.85 35.01 591.17 35.01 591.49 35.00 591.81 35.00 592.13 34.99 592.45 34.99 592.77 34.98 593.09 34.98 593.41 34.97 593.73 34.97 594.04 34.96 594.36 34.96 594.68 34.95 595.00 34.95 595.32 34.95 595.64 34.94 595.96 34.94 596.28 34.93 596.60 34.93 596.92 34.93 597.23 34.92 597.55 34.92 597.87 34.91 598.19 34.91 598.51 34.91 598.83 34.90 599.15 34.90 599.47 34.89 599.79 34.89 600.11 34.89 600.42 34.88 600.74 34.88 601.06 34.88 601.38 34.87 601.70 34.87 602.02 34.87 602.34 34.86 602.66 34.86 602.98 34.86 603.29 34.85 603.61 34.85 603.93 34.85 604.25 34.85 604.57 34.84 604.89 34.84 605.21 34.84 605.53 34.83 605.84 34.83 606.16 34.83 606.48 34.83 606.80 34.82 607.12 34.82 607.44 34.82 607.76 34.82 608.08 34.81 608.39 34.81 608.71 34.81 609.03 34.81 609.35 34.80 609.67 34.80 609.99 34.80 610.31 34.80 610.63 34.80 610.94 34.79 611.26 34.79 611.58 34.79 611.90 34.79 612.22 34.79 612.54 34.79 612.86 34.78 613.17 34.78 613.49 34.78 613.81 34.78 614.13 34.78 614.45 34.78 614.77 34.77 615.08 34.77 615.40 34.77 615.72 34.77 616.04 34.77 616.36 34.77 616.68 34.77 617.00 34.77 617.31 34.77 617.63 34.77 617.95 34.76 618.27 34.76 618.59 34.76 618.91 34.76 619.22 34.76 619.54 34.76 619.86 34.76 620.18 34.76 620.50 34.76 620.81 34.76 621.13 34.76 621.45 34.76 621.77 34.76 622.09 34.76 622.41 34.76 622.72 34.76 623.04 34.76 623.36 34.76 623.68 34.76 624.00 34.76 624.31 34.76 624.63 34.76 624.95 34.76 625.27 34.76 625.59 34.76 625.90 34.76 626.22 34.76 626.54 34.76 626.86 34.76 627.18 34.76 627.49 34.76 627.81 34.77 628.13 34.77 628.45 34.77 628.77 34.77 629.08 34.77 629.40 34.77 629.72 34.77 630.04 34.77 630.35 34.77 630.67 34.78 630.99 34.78 631.31 34.78 631.62 34.78 631.94 34.78 632.26 34.78 632.58 34.79 632.90 34.79 633.21 34.79 633.53 34.79 633.85 34.79 634.17 34.80 634.48 34.80 634.80 34.80 635.12 34.80 635.43 34.80 635.75 34.81 636.07 34.81 636.39 34.81 636.70 34.81 637.02 34.82 637.34 34.82 637.66 34.82 637.97 34.82 638.29 34.83 638.61 34.83 638.93 34.83 639.24 34.84 639.56 34.84 639.88 34.84 640.19 34.85 640.51 34.85 640.83 34.85 641.14 34.86 641.46 34.86 641.78 34.86 642.10 34.87 642.41 34.87 642.73 34.87 643.05 34.88 643.36 34.88 643.68 34.88 644.00 34.89 644.31 34.89 644.63 34.90 644.95 34.90 645.26 34.90 645.58 34.91 645.90 34.91 646.21 34.92 646.53 34.92 646.85 34.93 647.16 34.93 647.48 34.94 647.80 34.94 648.11 34.95 648.43 34.95 648.75 34.95 649.06 34.96 649.38 34.96 649.70 34.97 650.01 34.98 650.33 34.98 650.64 34.99 650.96 34.99 651.28 35.00 651.59 35.00 651.91 35.01 652.23 35.01 652.54 35.02 " fill="none" stroke="#1ae2e8" stroke-width="3.5" stroke-linejoin="round" stroke-linecap="butt"/><path d="M88.24 38.03 L89.61 38.05 90.98 38.07 92.36 38.09 93.73 38.10 95.11 38.12 96.48 38.14 97.86 38.16 99.24 38.18 100.61 38.20 101.99 38.21 103.37 38.23 104.74 38.25 106.12 38.26 107.50 38.28 108.88 38.30 110.25 38.31 111.63 38.33 113.01 38.35 114.39 38.36 115.77 38.38 117.15 38.39 118.53 38.41 119.91 38.43 121.29 38.44 122.67 38.46 124.05 38.48 125.43 38.49 126.81 38.51 128.20 38.53 129.58 38.55 130.96 38.56 132.34 38.58 133.72 38.60 135.10 38.62 136.49 38.64 137.87 38.66 139.25 38.68 140.63 38.69 142.01 38.72 143.40 38.74 144.78 38.76 146.16 38.78 147.55 38.80 148.93 38.82 150.31 38.85 151.69 38.87 153.08 38.89 154.46 38.92 155.84 38.94 157.22 38.97 158.61 39.00 159.99 39.02 161.37 39.05 162.76 39.08 164.14 39.11 165.52 39.14 166.90 39.17 168.29 39.21 169.67 39.24 171.05 39.27 172.43 39.31 173.81 39.34 175.20 39.38 176.58 39.42 177.96 39.45 179.34 39.49 180.72 39.53 182.10 39.58 183.49 39.62 184.87 39.66 186.25 39.71 187.63 39.75 189.01 39.80 190.39 39.85 191.77 39.90 193.15 39.95 194.53 40.00 195.91 40.05 197.28 40.11 198.66 40.16 200.04 40.22 201.42 40.28 202.80 40.34 204.18 40.40 205.55 40.46 206.93 40.52 208.31 40.59 209.68 40.65 211.06 40.72 212.43 40.79 213.81 40.86 215.18 40.94 216.56 41.01 217.93 41.09 219.31 41.16 220.68 41.24 222.05 41.33 223.43 41.41 224.80 41.49 226.17 41.58 227.54 41.67 228.91 41.76 230.28 41.85 231.65 41.94 233.02 42.04 234.39 42.14 235.76 42.24 237.13 42.34 238.49 42.46 239.86 42.57 241.23 42.70 242.60 42.82 243.96 42.96 245.33 43.10 246.70 43.26 248.06 43.42 249.43 43.59 250.79 43.77 252.16 43.96 253.52 44.16 254.89 44.37 256.25 44.60 257.62 44.83 258.98 45.08 260.35 45.35 261.71 45.63 263.08 45.92 264.44 46.23 265.81 46.55 267.17 46.90 268.54 47.25 269.90 47.63 271.25 48.03 272.61 48.44 273.95 48.88 275.29 49.33 276.61 49.81 277.93 50.31 279.23 50.83 280.52 51.38 281.79 51.95 283.05 52.55 284.29 53.17 285.51 53.82 286.70 54.49 287.88 55.19 289.03 55.93 290.15 56.69 291.25 57.48 292.32 58.30 293.37 59.15 294.38 60.03 295.37 60.95 296.33 61.88 297.26 62.85 298.17 63.84 299.05 64.86 299.91 65.90 300.74 66.96 301.56 68.05 302.35 69.15 303.12 70.28 303.87 71.42 304.60 72.58 305.31 73.76 306.00 74.95 306.67 76.16 307.33 77.38 307.97 78.62 308.60 79.86 309.21 81.12 309.80 82.38 310.39 83.66 310.95 84.94 311.51 86.23 312.06 87.52 312.59 88.82 313.12 90.12 313.63 91.42 314.14 92.73 314.64 94.03 315.13 95.34 315.61 96.65 316.08 97.96 316.55 99.27 317.01 100.58 317.46 101.89 317.90 103.20 318.34 104.51 318.77 105.82 319.19 107.14 319.60 108.45 320.01 109.77 320.41 111.09 320.81 112.40 321.20 113.72 321.58 115.04 321.95 116.36 322.32 117.68 322.69 119.00 323.05 120.33 323.40 121.65 323.74 122.97 324.09 124.30 324.42 125.62 324.75 126.95 325.08 128.28 325.40 129.61 325.72 130.93 326.03 132.26 326.33 133.59 326.64 134.93 326.94 136.26 327.23 137.59 327.52 138.92 327.81 140.26 328.09 141.59 328.37 142.93 328.64 144.26 328.91 145.60 329.18 146.94 329.45 148.28 329.71 149.62 329.97 150.96 330.23 152.30 330.48 153.64 330.73 154.98 330.98 156.32 331.23 157.67 331.47 159.01 331.72 160.36 331.96 161.70 332.19 163.05 332.43 164.40 332.67 165.75 332.90 167.10 333.14 168.44 333.37 169.79 333.60 171.15 333.83 172.50 334.06 173.85 334.29 175.20 334.51 176.56 334.74 177.91 334.96 179.26 335.19 180.62 335.41 181.98 335.63 183.33 335.86 184.69 336.08 186.05 336.29 187.41 336.51 188.76 336.73 190.12 336.95 191.48 337.16 192.84 337.38 194.20 337.59 195.57 337.81 196.93 338.02 198.29 338.23 199.65 338.44 201.01 338.65 202.38 338.86 203.74 339.07 205.11 339.27 206.47 339.48 207.83 339.68 209.20 339.89 210.56 340.09 211.93 340.29 213.30 340.50 214.66 340.70 216.03 340.90 217.39 341.10 218.76 341.29 220.13 341.49 221.50 341.69 222.86 341.88 224.23 342.08 225.60 342.27 226.97 342.47 228.33 342.66 229.70 342.85 231.07 343.04 232.44 343.23 233.81 343.42 235.18 343.61 236.54 343.80 237.91 343.99 239.28 344.17 240.65 344.36 242.02 344.55 243.39 344.73 244.75 344.91 246.12 345.10 247.49 345.28 248.86 345.46 250.23 345.64 251.60 345.82 252.96 346.00 254.33 346.18 255.70 346.36 257.07 346.53 258.43 346.71 259.80 346.89 261.17 347.06 262.54 347.24 263.90 347.41 265.27 347.59 266.64 347.77 268.00 347.94 269.37 348.12 270.74 348.29 272.11 348.46 273.47 348.64 274.84 348.81 276.21 348.99 277.57 349.17 278.94 349.34 280.31 349.52 281.68 349.69 283.04 349.87 284.41 350.05 285.78 350.22 287.14 350.40 288.51 350.58 289.88 350.76 291.25 350.94 292.62 351.12 293.98 351.30 295.35 351.49 296.72 351.67 298.09 351.85 299.46 352.04 300.83 352.23 302.19 352.41 303.56 352.60 304.93 352.79 306.30 352.98 307.67 353.18 309.04 353.37 310.41 353.56 311.78 353.76 313.15 353.96 314.53 354.16 315.90 354.36 317.27 354.56 318.64 354.77 320.01 354.97 321.38 355.18 322.75 355.39 324.12 355.60 325.49 355.81 326.86 356.03 328.23 356.24 329.60 356.46 330.97 356.68 332.34 356.90 333.70 357.12 335.07 357.35 336.43 357.57 337.80 357.80 339.16 358.03 340.52 358.26 341.88 358.49 343.24 358.73 344.59 358.97 345.95 359.21 347.30 359.45 348.65 359.69 350.00 359.94 351.35 360.18 352.70 360.43 354.04 360.68 355.38 360.94 356.72 361.19 358.06 361.45 359.40 361.71 360.73 361.97 362.07 362.24 363.40 362.51 364.74 362.78 366.07 363.06 367.41 363.34 368.75 363.62 370.09 363.91 371.44 364.20 372.79 364.50 374.14 364.80 375.50 365.11 376.86 365.42 378.23 365.74 379.60 366.07 380.98 366.40 382.37 366.74 383.76 367.09 385.15 367.48 386.53 367.93 387.89 368.44 389.21 369.05 390.47 369.75 391.68 370.58 392.79 371.52 393.49 372.56 393.39 373.59 392.69 374.53 391.73 375.38 390.57 376.15 389.28 376.84 387.89 377.45 386.47 378.00 385.06 378.49 383.66 378.93 382.28 379.32 380.91 379.67 379.56 379.99 378.21 380.27 376.87 380.54 375.54 380.78 374.21 381.02 372.88 381.25 371.55 381.48 370.21 381.71 368.88 381.94 367.54 382.17 366.21 382.39 364.87 382.61 363.53 382.83 362.19 383.05 360.84 383.26 359.50 383.47 358.15 383.69 356.80 383.89 355.45 384.10 354.10 384.31 352.75 384.51 351.40 384.72 350.05 384.92 348.69 385.12 347.33 385.32 345.98 385.51 344.62 385.71 343.26 385.90 341.90 386.10 340.54 386.29 339.17 386.48 337.81 386.67 336.45 386.85 335.08 387.04 333.71 387.22 332.35 387.41 330.98 387.59 329.61 387.77 328.24 387.95 326.88 388.13 325.51 388.31 324.14 388.49 322.76 388.67 321.39 388.84 320.02 389.02 318.65 389.19 317.28 389.37 315.91 389.54 314.53 389.71 313.16 389.89 311.79 390.06 310.41 390.23 309.04 390.40 307.67 390.57 306.29 390.74 304.92 390.91 303.54 391.08 302.17 391.24 300.80 391.41 299.42 391.58 298.05 391.75 296.68 391.91 295.30 392.08 293.93 392.25 292.56 392.41 291.18 392.58 289.81 392.74 288.44 392.91 287.06 393.08 285.69 393.24 284.32 393.41 282.94 393.57 281.57 393.74 280.20 393.90 278.82 394.07 277.45 394.23 276.08 394.40 274.70 394.56 273.33 394.73 271.96 394.89 270.59 395.06 269.21 395.22 267.84 395.39 266.47 395.55 265.10 395.72 263.73 395.89 262.35 396.05 260.98 396.22 259.61 396.39 258.24 396.55 256.87 396.72 255.49 396.89 254.12 397.06 252.75 397.22 251.38 397.39 250.01 397.56 248.64 397.73 247.27 397.90 245.90 398.07 244.53 398.25 243.16 398.42 241.79 398.59 240.42 398.76 239.05 398.94 237.68 399.11 236.31 399.29 234.94 399.46 233.57 399.64 232.20 399.81 230.83 399.99 229.46 400.17 228.09 400.35 226.72 400.53 225.36 400.71 223.99 400.89 222.62 401.07 221.25 401.26 219.89 401.44 218.52 401.63 217.15 401.81 215.78 402.00 214.42 402.19 213.05 402.38 211.68 402.56 210.32 402.76 208.95 402.95 207.59 403.14 206.22 403.33 204.86 403.53 203.49 403.73 202.13 403.92 200.76 404.12 199.40 404.32 198.03 404.52 196.67 404.73 195.31 404.93 193.94 405.13 192.58 405.34 191.22 405.55 189.85 405.76 188.49 405.97 187.13 406.18 185.77 406.39 184.41 406.61 183.04 406.82 181.68 407.04 180.32 407.26 178.96 407.48 177.60 407.70 176.24 407.93 174.88 408.15 173.52 408.38 172.16 408.61 170.80 408.84 169.45 409.07 168.09 409.30 166.73 409.54 165.37 409.77 164.02 410.01 162.66 410.25 161.30 410.49 159.95 410.74 158.59 410.98 157.23 411.23 155.88 411.48 154.52 411.73 153.17 411.99 151.81 412.24 150.46 412.50 149.11 412.76 147.75 413.02 146.40 413.28 145.05 413.55 143.70 413.82 142.34 414.08 140.99 414.36 139.64 414.63 138.29 414.91 136.94 415.18 135.59 415.46 134.24 415.75 132.89 416.03 131.54 416.32 130.19 416.61 128.84 416.90 127.50 417.20 126.15 417.50 124.80 417.80 123.46 418.11 122.12 418.43 120.78 418.76 119.44 419.09 118.10 419.43 116.77 419.78 115.43 420.14 114.10 420.52 112.78 420.90 111.45 421.30 110.14 421.71 108.82 422.13 107.51 422.57 106.20 423.02 104.90 423.49 103.60 423.98 102.31 424.48 101.02 425.00 99.73 425.54 98.46 426.10 97.19 426.68 95.92 427.28 94.66 427.90 93.41 428.55 92.16 429.22 90.92 429.91 89.69 430.63 88.47 431.37 87.26 432.13 86.06 432.93 84.88 433.74 83.73 434.59 82.60 435.45 81.49 436.35 80.42 437.27 79.38 438.22 78.37 439.19 77.41 440.20 76.48 441.23 75.61 442.29 74.78 443.37 74.00 444.49 73.27 445.63 72.61 446.81 71.99 448.00 71.43 449.22 70.91 450.47 70.43 451.73 70.00 453.02 69.60 454.32 69.24 455.64 68.91 456.97 68.60 458.32 68.32 459.68 68.06 461.05 67.82 462.43 67.59 463.82 67.38 465.21 67.17 466.61 66.96 468.01 66.76 469.41 66.56 470.81 66.35 472.21 66.13 473.60 65.90 475.00 65.66 476.38 65.40 477.76 65.12 479.13 64.81 480.49 64.48 481.84 64.12 483.18 63.75 484.51 63.35 485.84 62.94 487.16 62.51 488.48 62.07 489.79 61.61 491.09 61.14 492.39 60.67 493.69 60.19 494.98 59.70 496.28 59.20 497.57 58.71 498.86 58.21 500.15 57.72 501.44 57.23 502.73 56.75 504.02 56.27 505.31 55.80 506.61 55.34 507.91 54.89 509.21 54.44 510.52 54.01 511.82 53.59 513.13 53.18 514.44 52.77 515.76 52.38 517.07 51.99 518.39 51.62 519.71 51.25 521.04 50.89 522.36 50.54 523.69 50.19 525.02 49.86 526.35 49.53 527.68 49.21 529.01 48.90 530.35 48.60 531.69 48.30 533.03 48.02 534.37 47.74 535.72 47.46 537.06 47.20 538.41 46.94 539.76 46.69 541.11 46.44 542.46 46.20 543.81 45.97 545.17 45.75 546.53 45.53 547.88 45.32 549.24 45.11 550.60 44.91 551.97 44.72 553.33 44.53 554.70 44.35 556.06 44.17 557.43 44.00 558.80 43.83 560.17 43.67 561.54 43.52 562.91 43.37 564.28 43.22 565.65 43.08 567.03 42.94 568.40 42.81 569.78 42.69 571.16 42.56 572.53 42.45 573.91 42.33 575.29 42.22 576.67 42.12 578.05 42.02 579.43 41.92 580.81 41.82 582.20 41.73 583.58 41.64 584.96 41.56 586.35 41.48 587.73 41.40 589.11 41.32 590.50 41.25 591.88 41.18 593.27 41.11 594.65 41.05 596.04 40.98 597.42 40.92 598.81 40.86 600.19 40.81 601.58 40.75 602.97 40.70 604.35 40.65 605.74 40.60 607.12 40.55 608.51 40.51 609.89 40.46 611.28 40.42 612.66 40.37 614.04 40.33 615.43 40.29 616.81 40.25 618.19 40.21 619.58 40.17 620.96 40.13 622.34 40.09 623.72 40.05 625.10 40.01 626.48 39.97 627.86 39.93 629.24 39.89 630.61 39.85 631.99 39.80 633.37 39.76 634.74 39.72 636.11 39.67 637.49 39.63 638.86 39.58 640.23 39.54 641.60 39.49 642.97 39.44 644.34 39.38 645.70 39.33 647.07 39.27 648.43 39.22 649.80 39.16 651.16 39.10 652.52 39.03" fill="none" stroke="#000" stroke-width="3.5" stroke-linejoin="round" stroke-linecap="butt"/><path d="M88.18 38.02 L89.26 38.04 90.34 38.05 91.42 38.07 92.50 38.09 93.58 38.10 94.66 38.12 95.74 38.13 96.82 38.15 97.90 38.16 98.98 38.18 100.06 38.19 101.14 38.21 102.22 38.22 103.30 38.24 104.37 38.25 105.45 38.26 106.53 38.28 107.61 38.29 108.69 38.31 109.77 38.32 110.84 38.33 111.92 38.35 113.00 38.36 114.08 38.38 115.15 38.39 116.23 38.40 117.31 38.42 118.39 38.43 119.46 38.45 120.54 38.46 121.62 38.48 122.69 38.49 123.77 38.51 124.85 38.53 125.92 38.54 127.00 38.56 128.08 38.57 129.15 38.59 130.23 38.61 131.31 38.63 132.38 38.64 133.46 38.66 134.54 38.68 135.61 38.70 136.69 38.72 137.77 38.74 138.84 38.76 139.92 38.78 140.99 38.80 142.07 38.83 143.15 38.85 144.22 38.87 145.30 38.89 146.37 38.92 147.45 38.94 148.53 38.97 149.60 39.00 150.68 39.02 151.75 39.05 152.83 39.08 153.91 39.11 154.98 39.14 156.06 39.17 157.13 39.20 158.21 39.23 159.29 39.26 160.36 39.30 161.44 39.33 162.51 39.36 163.59 39.40 164.67 39.44 165.74 39.47 166.82 39.51 167.90 39.55 168.97 39.59 170.05 39.63 171.12 39.68 172.20 39.72 173.28 39.76 174.35 39.81 175.43 39.86 176.51 39.90 177.58 39.95 178.66 40.00 179.74 40.05 180.81 40.10 181.89 40.16 182.97 40.21 184.05 40.27 185.12 40.32 186.20 40.38 187.28 40.44 188.35 40.50 189.43 40.56 190.51 40.62 191.59 40.69 192.66 40.75 193.74 40.82 194.82 40.89 195.90 40.96 196.98 41.03 198.05 41.10 199.13 41.17 200.21 41.25 201.29 41.33 202.37 41.40 203.45 41.48 204.53 41.56 205.60 41.64 206.68 41.73 207.76 41.81 208.84 41.90 209.92 41.98 210.99 42.07 212.07 42.16 213.15 42.25 214.23 42.34 215.30 42.43 216.38 42.52 217.45 42.62 218.53 42.71 219.60 42.80 220.68 42.90 221.75 42.99 222.82 43.09 223.89 43.19 224.96 43.28 226.03 43.38 227.10 43.48 228.17 43.58 229.24 43.68 230.30 43.78 231.37 43.88 232.43 43.98 233.50 44.08 234.56 44.18 235.62 44.29 236.68 44.39 237.74 44.50 238.80 44.61 239.86 44.73 240.92 44.85 241.98 44.97 243.04 45.10 244.10 45.23 245.16 45.37 246.22 45.51 247.28 45.66 248.34 45.81 249.40 45.97 250.46 46.14 251.52 46.32 252.58 46.50 253.64 46.69 254.70 46.89 255.76 47.10 256.83 47.32 257.89 47.54 258.95 47.78 260.02 48.03 261.08 48.28 262.15 48.55 263.21 48.83 264.27 49.12 265.32 49.42 266.38 49.74 267.43 50.07 268.47 50.41 269.51 50.76 270.54 51.13 271.57 51.51 272.59 51.91 273.60 52.32 274.60 52.74 275.60 53.19 276.58 53.64 277.56 54.12 278.52 54.61 279.47 55.11 280.41 55.64 281.34 56.18 282.25 56.74 283.15 57.32 284.03 57.91 284.90 58.53 285.75 59.16 286.59 59.82 287.42 60.49 288.22 61.17 289.02 61.88 289.80 62.60 290.56 63.33 291.32 64.08 292.05 64.84 292.78 65.62 293.49 66.41 294.19 67.21 294.88 68.03 295.55 68.85 296.22 69.69 296.87 70.53 297.51 71.38 298.13 72.25 298.75 73.12 299.36 74.00 299.95 74.88 300.54 75.78 301.11 76.68 301.68 77.59 302.23 78.50 302.78 79.42 303.32 80.35 303.84 81.28 304.36 82.22 304.87 83.17 305.37 84.12 305.87 85.08 306.35 86.04 306.83 87.00 307.30 87.98 307.76 88.95 308.22 89.93 308.67 90.92 309.11 91.90 309.54 92.90 309.97 93.89 310.39 94.89 310.81 95.89 311.22 96.90 311.63 97.91 312.03 98.92 312.42 99.93 312.81 100.94 313.20 101.96 313.58 102.98 313.96 104.00 314.33 105.02 314.70 106.04 315.07 107.06 315.43 108.09 315.79 109.11 316.15 110.14 316.50 111.16 316.86 112.18 317.21 113.21 317.55 114.23 317.90 115.26 318.24 116.28 318.58 117.31 318.91 118.33 319.25 119.36 319.58 120.38 319.91 121.41 320.24 122.44 320.56 123.46 320.88 124.49 321.20 125.51 321.52 126.54 321.84 127.57 322.15 128.60 322.46 129.62 322.77 130.65 323.08 131.68 323.38 132.71 323.69 133.74 323.99 134.77 324.29 135.80 324.58 136.83 324.88 137.86 325.17 138.89 325.46 139.92 325.75 140.95 326.04 141.98 326.32 143.02 326.60 144.05 326.89 145.08 327.17 146.12 327.44 147.15 327.72 148.19 327.99 149.22 328.27 150.26 328.54 151.29 328.81 152.33 329.08 153.37 329.34 154.41 329.61 155.45 329.87 156.49 330.13 157.53 330.39 158.57 330.65 159.61 330.91 160.65 331.17 161.69 331.42 162.74 331.67 163.78 331.93 164.83 332.18 165.87 332.43 166.92 332.68 167.97 332.92 169.02 333.17 170.06 333.41 171.11 333.66 172.16 333.90 173.22 334.14 174.27 334.38 175.32 334.62 176.37 334.86 177.43 335.10 178.48 335.34 179.53 335.58 180.59 335.82 181.64 336.05 182.70 336.29 183.76 336.53 184.81 336.76 185.87 337.00 186.92 337.24 187.98 337.48 189.04 337.71 190.09 337.95 191.15 338.19 192.20 338.43 193.26 338.67 194.32 338.91 195.37 339.15 196.43 339.39 197.48 339.63 198.53 339.87 199.59 340.12 200.64 340.36 201.69 340.61 202.75 340.86 203.80 341.10 204.85 341.35 205.90 341.61 206.95 341.86 208.00 342.11 209.05 342.37 210.09 342.63 211.14 342.89 212.18 343.15 213.23 343.41 214.27 343.68 215.31 343.95 216.35 344.22 217.39 344.49 218.43 344.77 219.47 345.04 220.50 345.32 221.54 345.61 222.57 345.89 223.60 346.18 224.63 346.47 225.66 346.77 226.69 347.06 227.71 347.36 228.73 347.67 229.75 347.97 230.77 348.28 231.79 348.59 232.81 348.91 233.82 349.23 234.83 349.55 235.84 349.88 236.85 350.21 237.86 350.55 238.87 350.89 239.87 351.23 240.88 351.57 241.89 351.92 242.90 352.27 243.91 352.63 244.92 352.99 245.94 353.35 246.96 353.72 247.98 354.09 249.00 354.47 250.03 354.85 251.06 355.23 252.10 355.62 253.14 356.01 254.19 356.43 255.23 356.87 256.28 357.34 257.32 357.85 258.36 358.40 259.39 359.01 260.41 359.67 261.41 360.38 262.35 361.13 263.16 361.91 263.78 362.71 264.15 363.53 264.21 364.34 263.94 365.14 263.42 365.93 262.72 366.69 261.89 367.42 261.01 368.12 260.11 368.77 259.20 369.39 258.28 369.98 257.34 370.54 256.39 371.07 255.43 371.57 254.45 372.05 253.47 372.49 252.47 372.92 251.47 373.32 250.45 373.70 249.43 374.07 248.40 374.41 247.37 374.74 246.33 375.06 245.29 375.36 244.24 375.65 243.19 375.93 242.13 376.20 241.08 376.47 240.02 376.72 238.96 376.98 237.91 377.23 236.85 377.48 235.80 377.72 234.74 377.97 233.68 378.21 232.63 378.44 231.58 378.68 230.52 378.91 229.47 379.14 228.42 379.36 227.36 379.59 226.31 379.81 225.26 380.03 224.21 380.25 223.15 380.47 222.10 380.69 221.05 380.90 220.00 381.12 218.95 381.33 217.90 381.54 216.84 381.75 215.79 381.97 214.74 382.18 213.69 382.39 212.64 382.60 211.59 382.81 210.54 383.02 209.48 383.23 208.43 383.44 207.38 383.65 206.33 383.86 205.28 384.08 204.22 384.29 203.17 384.50 202.12 384.71 201.07 384.93 200.01 385.14 198.96 385.36 197.91 385.57 196.86 385.78 195.80 386.00 194.75 386.22 193.70 386.43 192.64 386.65 191.59 386.86 190.54 387.08 189.48 387.30 188.43 387.52 187.38 387.73 186.32 387.95 185.27 388.17 184.22 388.39 183.16 388.61 182.11 388.83 181.06 389.05 180.00 389.28 178.95 389.50 177.90 389.72 176.85 389.94 175.79 390.17 174.74 390.39 173.69 390.62 172.63 390.84 171.58 391.07 170.53 391.29 169.47 391.52 168.42 391.75 167.37 391.98 166.32 392.21 165.26 392.44 164.21 392.67 163.16 392.90 162.11 393.13 161.05 393.36 160.00 393.60 158.95 393.83 157.90 394.07 156.85 394.30 155.80 394.54 154.74 394.78 153.69 395.01 152.64 395.25 151.59 395.49 150.54 395.73 149.49 395.97 148.44 396.21 147.39 396.46 146.34 396.70 145.29 396.94 144.24 397.19 143.19 397.43 142.14 397.68 141.09 397.93 140.04 398.18 138.99 398.43 137.95 398.68 136.90 398.93 135.85 399.18 134.80 399.44 133.75 399.69 132.71 399.94 131.66 400.20 130.61 400.46 129.57 400.72 128.52 400.98 127.48 401.24 126.43 401.50 125.39 401.77 124.34 402.03 123.30 402.30 122.25 402.57 121.21 402.85 120.17 403.13 119.13 403.41 118.09 403.69 117.06 403.98 116.02 404.27 114.98 404.57 113.95 404.87 112.92 405.17 111.89 405.48 110.86 405.80 109.83 406.12 108.81 406.44 107.78 406.77 106.76 407.11 105.74 407.45 104.72 407.80 103.71 408.15 102.69 408.52 101.68 408.88 100.67 409.26 99.67 409.64 98.66 410.03 97.66 410.43 96.66 410.84 95.67 411.25 94.67 411.67 93.68 412.11 92.70 412.55 91.71 412.99 90.73 413.45 89.75 413.92 88.78 414.40 87.81 414.88 86.84 415.38 85.88 415.89 84.91 416.41 83.96 416.93 83.01 417.47 82.06 418.02 81.12 418.59 80.18 419.16 79.26 419.75 78.34 420.35 77.44 420.97 76.54 421.60 75.66 422.24 74.80 422.90 73.95 423.58 73.12 424.27 72.31 424.97 71.52 425.70 70.75 426.44 70.00 427.19 69.27 427.97 68.57 428.76 67.90 429.58 67.25 430.41 66.63 431.26 66.04 432.13 65.48 433.03 64.95 433.94 64.46 434.88 64.00 435.83 63.57 436.81 63.18 437.81 62.82 438.82 62.49 439.85 62.18 440.90 61.90 441.96 61.64 443.02 61.41 444.11 61.19 445.19 60.98 446.29 60.79 447.39 60.61 448.50 60.43 449.61 60.27 450.72 60.11 451.84 59.94 452.95 59.78 454.06 59.62 455.16 59.45 456.26 59.28 457.36 59.10 458.45 58.91 459.53 58.71 460.61 58.50 461.68 58.29 462.75 58.08 463.82 57.86 464.88 57.63 465.93 57.40 466.99 57.16 468.04 56.92 469.08 56.67 470.13 56.43 471.17 56.18 472.21 55.92 473.25 55.67 474.28 55.41 475.31 55.15 476.35 54.89 477.38 54.62 478.41 54.36 479.44 54.10 480.46 53.83 481.49 53.57 482.52 53.31 483.55 53.05 484.58 52.79 485.61 52.54 486.64 52.28 487.68 52.03 488.71 51.78 489.75 51.53 490.78 51.29 491.82 51.05 492.86 50.81 493.90 50.58 494.95 50.35 495.99 50.12 497.04 49.89 498.08 49.67 499.13 49.45 500.18 49.23 501.23 49.02 502.28 48.81 503.33 48.60 504.38 48.39 505.44 48.19 506.49 47.99 507.55 47.79 508.61 47.60 509.67 47.40 510.72 47.22 511.78 47.03 512.85 46.85 513.91 46.67 514.97 46.49 516.03 46.31 517.10 46.14 518.16 45.97 519.23 45.81 520.29 45.65 521.36 45.49 522.43 45.33 523.50 45.17 524.56 45.02 525.63 44.87 526.70 44.73 527.77 44.58 528.85 44.44 529.92 44.31 530.99 44.17 532.06 44.04 533.13 43.91 534.21 43.79 535.28 43.66 536.35 43.54 537.43 43.42 538.50 43.31 539.57 43.20 540.65 43.09 541.72 42.98 542.80 42.88 543.87 42.78 544.95 42.68 546.02 42.58 547.10 42.49 548.17 42.40 549.25 42.32 550.32 42.23 551.40 42.15 552.48 42.07 553.55 42.00 554.63 41.92 555.70 41.85 556.78 41.78 557.85 41.72 558.93 41.65 560.00 41.59 561.08 41.53 562.16 41.47 563.23 41.41 564.31 41.36 565.38 41.31 566.46 41.26 567.53 41.21 568.61 41.16 569.69 41.12 570.76 41.07 571.84 41.03 572.91 40.99 573.99 40.95 575.07 40.92 576.14 40.88 577.22 40.84 578.29 40.81 579.37 40.78 580.45 40.75 581.52 40.72 582.60 40.69 583.68 40.66 584.75 40.63 585.83 40.61 586.90 40.58 587.98 40.56 589.06 40.53 590.13 40.51 591.21 40.49 592.29 40.46 593.36 40.44 594.44 40.42 595.52 40.40 596.59 40.38 597.67 40.36 598.75 40.34 599.82 40.32 600.90 40.30 601.98 40.28 603.05 40.26 604.13 40.24 605.21 40.22 606.28 40.20 607.36 40.18 608.44 40.16 609.51 40.14 610.59 40.12 611.67 40.09 612.74 40.07 613.82 40.05 614.90 40.02 615.98 40.00 617.05 39.98 618.13 39.95 619.21 39.92 620.28 39.90 621.36 39.87 622.44 39.84 623.52 39.81 624.59 39.78 625.67 39.74 626.75 39.71 627.82 39.67 628.90 39.64 629.98 39.60 631.06 39.56 632.13 39.52 633.21 39.48 634.29 39.43 635.37 39.39 636.44 39.34 637.52 39.29 638.60 39.24 639.67 39.18 640.75 39.13 641.83 39.07 642.91 39.01 643.98 38.95 645.06 38.89 646.14 38.82 647.22 38.76 648.29 38.69 649.37 38.61 650.45 38.54 651.53 38.46 652.60 38.38" fill="none" stroke="#0606cc" stroke-width="3.5" stroke-linejoin="round" stroke-linecap="butt"/><path d="M88.2 32.6 L652.6 32.6" stroke="#e80ee4" stroke-width="3.2" fill="none"/><g font-family="&quot;Liberation Sans&quot;, sans-serif" font-weight="bold" font-size="21" fill="#000" stroke="#000" stroke-width="0.45"><text transform="translate(73.1 38.65) scale(1 1.07)" text-anchor="end">0</text><text transform="translate(73.1 149.92) scale(1 1.07)" text-anchor="end">-100</text><text transform="translate(73.1 261.19) scale(1 1.07)" text-anchor="end">-200</text><text transform="translate(73.1 372.46) scale(1 1.07)" text-anchor="end">-300</text><text transform="translate(168.80 453.2) scale(1 1.07)" text-anchor="middle">-0.4</text><text transform="translate(330.00 453.2) scale(1 1.07)" text-anchor="middle">-0.2</text><text transform="translate(491.20 453.2) scale(1 1.07)" text-anchor="middle">0.0</text><text transform="translate(652.40 453.2) scale(1 1.07)" text-anchor="middle">0.2</text></g><text x="404.5" y="483" text-anchor="middle" font-family="&quot;Liberation Serif&quot;, serif" font-weight="bold" font-size="26" fill="#000">E / V <tspan font-size="32" dy="-0.5">(</tspan><tspan dy="0.5">vs Ag/AgCl</tspan><tspan font-size="32" dy="-0.5">)</tspan></text><text transform="translate(26,203) rotate(-90)" text-anchor="middle" font-family="&quot;Liberation Serif&quot;, serif" font-weight="bold" font-size="27" fill="#000">I / μA</text></svg></body></html>
